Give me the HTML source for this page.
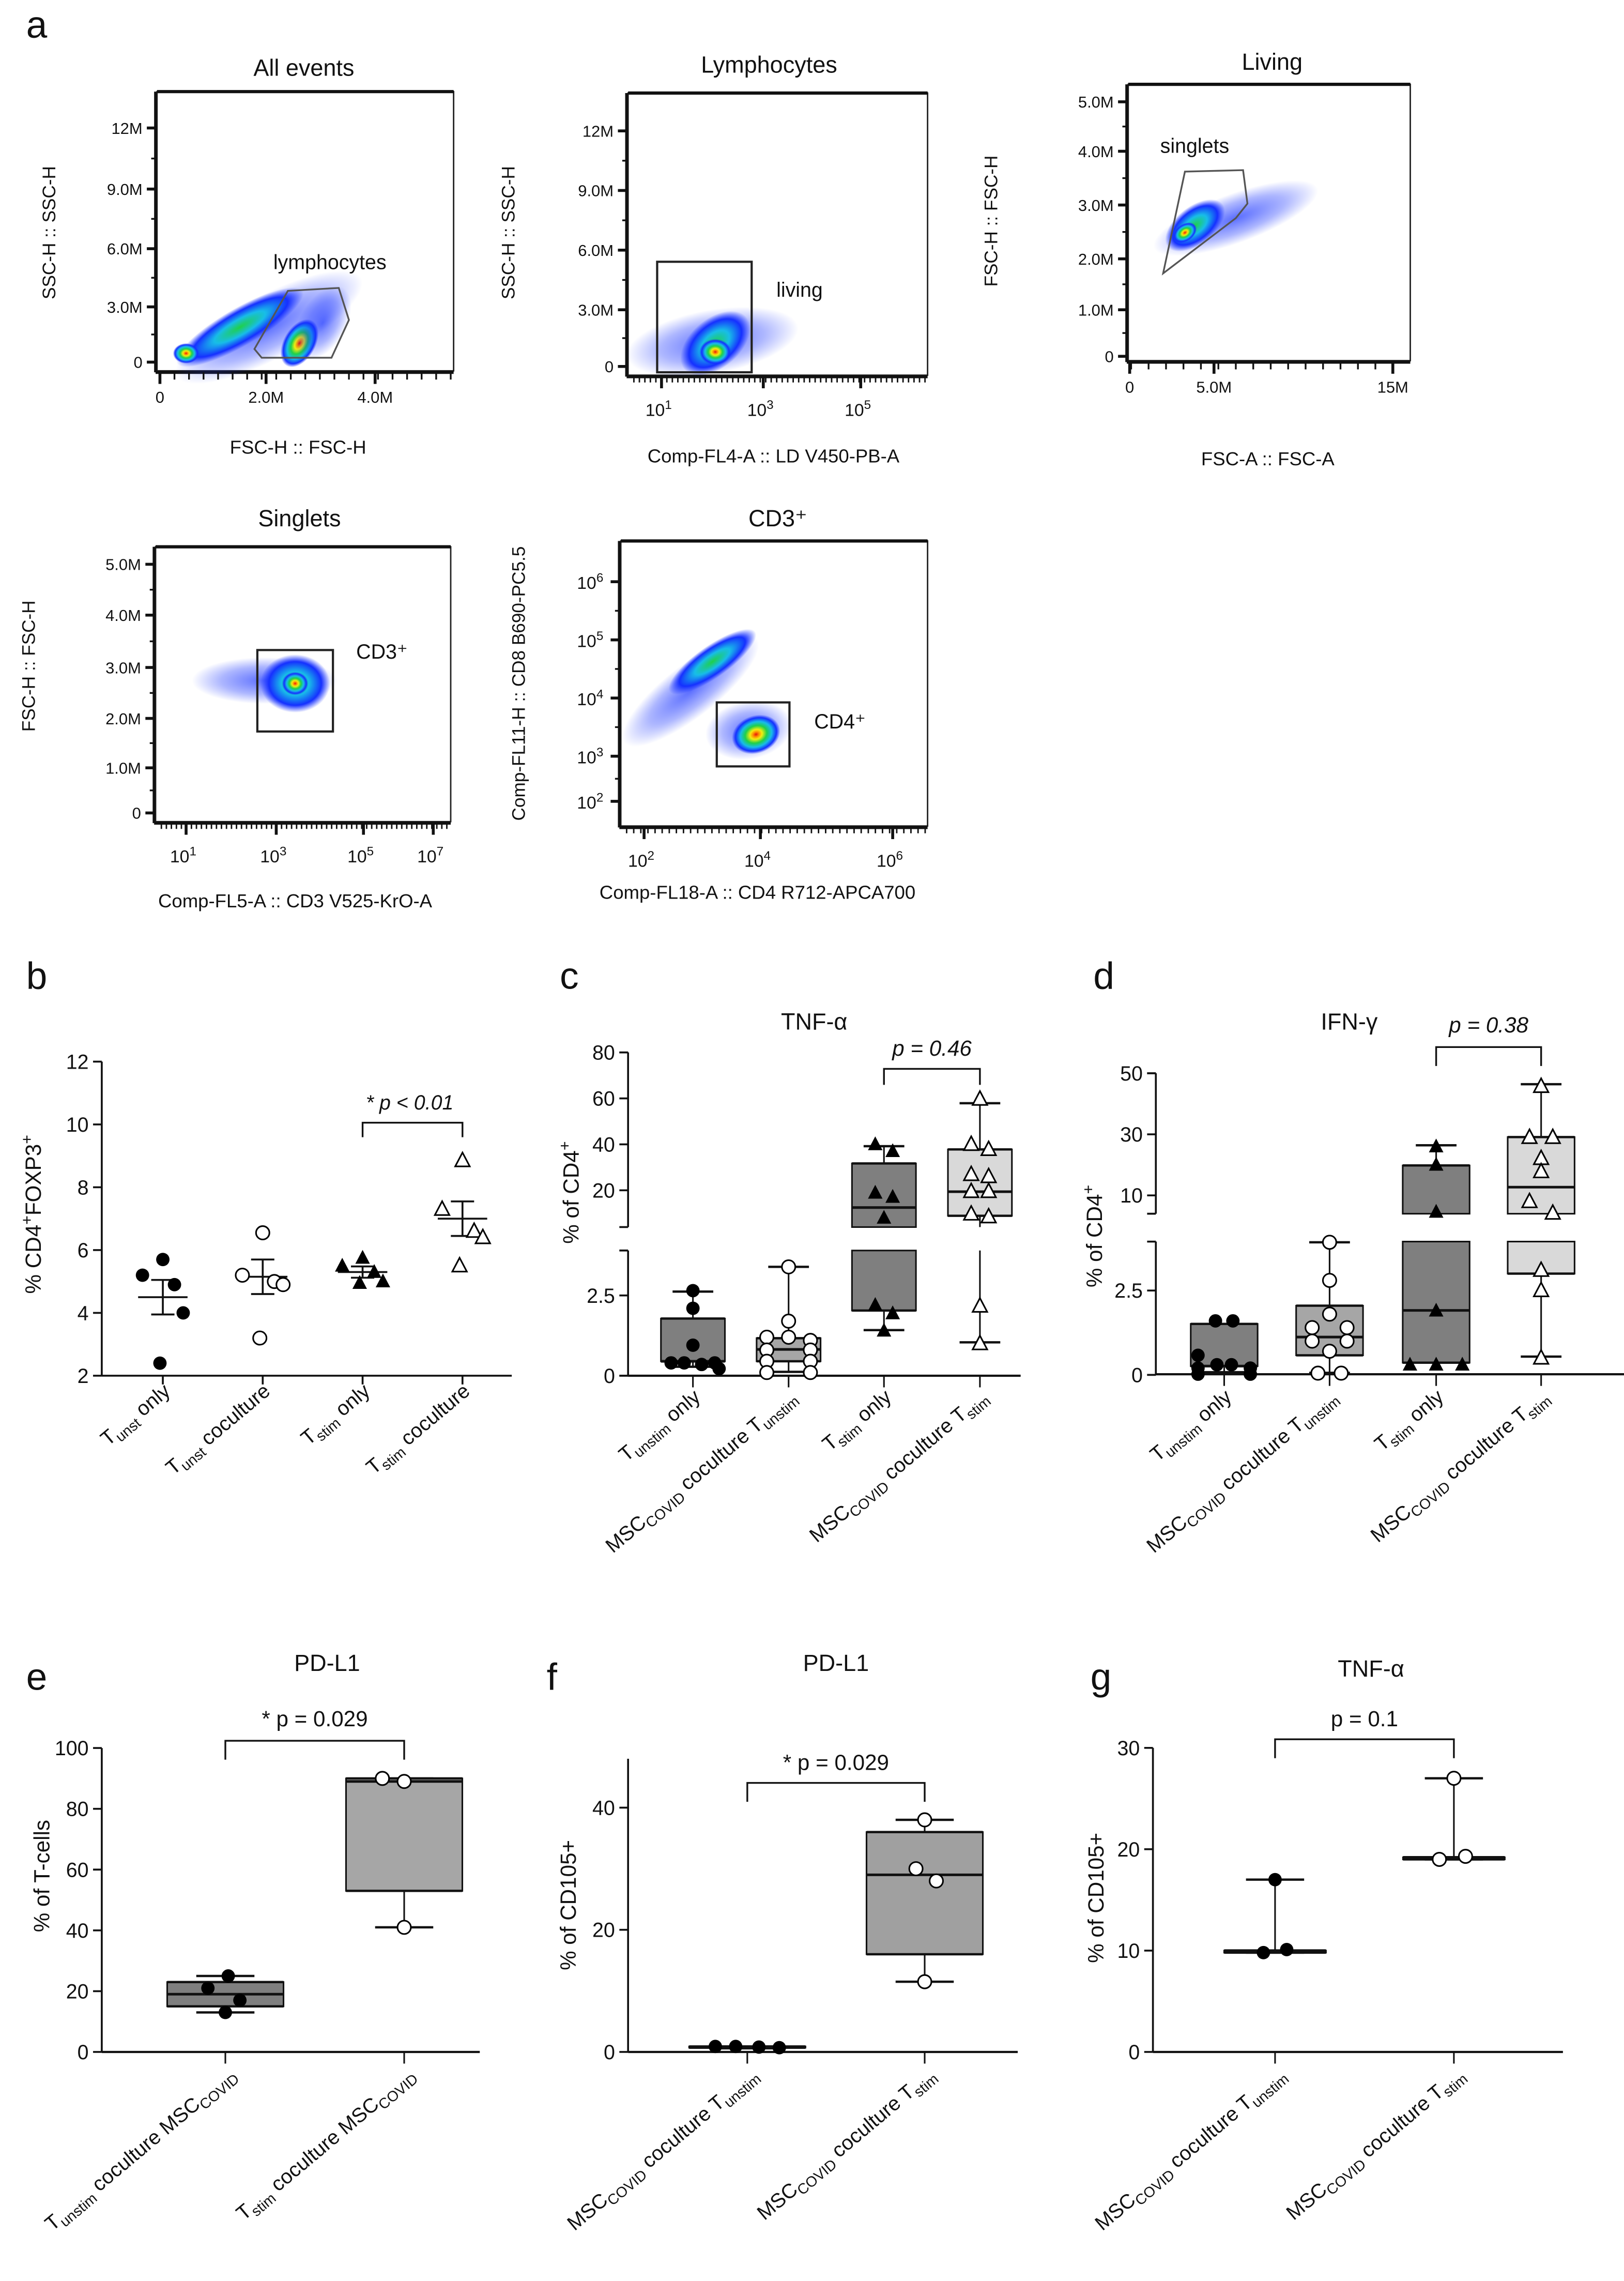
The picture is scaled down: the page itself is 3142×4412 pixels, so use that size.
<!DOCTYPE html>
<html><head><meta charset="utf-8">
<style>
html,body{margin:0;padding:0;background:#fff;}
svg{display:block;}
text{font-family:"Liberation Sans",Arial,sans-serif;fill:#111;}
</style></head>
<body>
<svg id="fig" xmlns="http://www.w3.org/2000/svg" width="3142" height="4412" viewBox="0 0 1117 1568.5" preserveAspectRatio="none">
<defs>
<radialGradient id="heat" cx="0.5" cy="0.5" r="0.5">
<stop offset="0" stop-color="#e3140f"/>
<stop offset="0.12" stop-color="#ff8c00"/>
<stop offset="0.25" stop-color="#f2ee10"/>
<stop offset="0.45" stop-color="#1fd04a"/>
<stop offset="0.65" stop-color="#18bde8"/>
<stop offset="0.85" stop-color="#1530ff"/>
<stop offset="1" stop-color="#1530ff" stop-opacity="0"/>
</radialGradient>
<radialGradient id="cool" cx="0.5" cy="0.5" r="0.5">
<stop offset="0" stop-color="#1fd04a"/>
<stop offset="0.4" stop-color="#18bde8"/>
<stop offset="0.75" stop-color="#1530ff"/>
<stop offset="1" stop-color="#1530ff" stop-opacity="0"/>
</radialGradient>
<radialGradient id="blue" cx="0.5" cy="0.5" r="0.5">
<stop offset="0" stop-color="#1530ff" stop-opacity="0.7"/>
<stop offset="0.6" stop-color="#1530ff" stop-opacity="0.35"/>
<stop offset="1" stop-color="#1530ff" stop-opacity="0"/>
</radialGradient>
</defs>
<rect x="0" y="0" width="1117" height="1568.5" fill="#fff"/>
</svg>
<script>
// ---------- DATA ----------
// panel b
const bCats = ['unst only','unst coculture','stim only','stim coculture'];
const bVals1 = [5.7,5.2,4.9,4.0,2.4];
const bVals2 = [6.55,5.2,5.0,4.9,3.2];
const bVals3 = [5.75,5.5,5.3,5.0,4.95];
const bVals4 = [8.85,7.3,6.6,6.4,5.5];
const bMeans = [4.5,5.15,5.3,7.0];
const bSems = [0.55,0.55,0.18,0.55];
const bTicks = [2,4,6,8,10,12];
// panel c (TNF-a)
const cBox1 = [0.28,0.45,0.45,1.78,2.62];
const cBox2 = [0.12,0.45,0.82,1.17,3.39];
const cBox3 = [1.42,2.03,12.5,31.7,39.2];
const cBox4 = [1.04,8.9,19.4,37.8,57.9];
const cPts1 = [2.65,2.1,0.95,0.4,0.4,0.35,0.4,0.22];
const cPts2 = [3.39,1.7,1.2,1.2,1.1,0.8,0.8,0.45,0.45,0.1,0.1];
const cPts3 = [40,37,18.9,17.1,8,2.2,1.94,1.4];
const cPts4 = [59.7,40,37.8,26.9,26,19.5,19.5,9.7,8.5,2.17,1.0];
const cTicksLow = [0,2.5];
const cTicksUp = [20,40,60,80];
// panel d (IFN-g)
const dBox1 = [0.08,0.26,0.26,1.51,1.51];
const dBox2 = [0.06,0.58,1.12,2.05,3.93];
const dBox3 = [0.36,0.36,1.91,19.8,26.4];
const dBox4 = [0.54,3.0,12.7,29.1,46.4];
const dPts1 = [1.6,1.6,0.58,0.3,0.3,0.2,0.2,0.02,0.02];
const dPts2 = [3.93,2.8,1.8,1.4,1.4,1.0,1.0,0.7,0.05,0.05];
const dPts3 = [26,20,4.6,1.9,0.3,0.3,0.3];
const dPts4 = [45.7,29,29,22.1,17.8,8.0,4.2,3.1,2.5,0.5];
const dTicksLow = [0,2.5];
const dTicksUp = [10,30,50];
// panel e (PD-L1 % T-cells)
const eBox1 = [13,15,19,23,25];
const eBox2 = [41,53,89,90,90];
const ePts1 = [25,21,17,13];
const ePts2 = [90,89,41];
const eTicks = [0,20,40,60,80,100];
// panel f (PD-L1 % CD105+)
const fBox1 = [0.6,0.7,0.8,0.9,0.9];
const fBox2 = [11.5,16,29,36,38];
const fPts1 = [0.9,0.9,0.8,0.7];
const fPts2 = [38,30,28,11.5];
const fTicks = [0,20,40];
// panel g (TNF-a % CD105+)
const gBox1 = [9.8,9.8,10,10,17];
const gBox2 = [19,19,19.2,19.2,27];
const gPts1 = [17,9.8,10.1];
const gPts2 = [27,19,19.3];
const gTicks = [0,10,20,30];

// ---------- HELPERS ----------
const NS='http://www.w3.org/2000/svg';
const svg=document.getElementById('fig');
function el(tag,attrs,parent){const e=document.createElementNS(NS,tag);for(const k in attrs)e.setAttribute(k,attrs[k]);(parent||svg).appendChild(e);return e;}
function grp(name){const g=el('g',{});


return g;}
function txt(p,x,y,s,size,anchor,extra){const t=el('text',Object.assign({x:x,y:y,'font-size':size,'text-anchor':anchor||'middle'},extra||{}),p);t.textContent=s;return t;}
function line(p,x1,y1,x2,y2,w){return el('line',{x1:x1,y1:y1,x2:x2,y2:y2,stroke:'#111','stroke-width':w||1.2},p);}
function rich(p,x,y,parts,size,anchor,transform){
  const t=el('text',{x:x,y:y,'font-size':size,'text-anchor':anchor||'middle'},p);
  if(transform)t.setAttribute('transform',transform);
  let shift=0;
  parts.forEach(pt=>{const ts=el('tspan',{},t);let target=0;
    if(pt[1]==='sub'){target=size*0.25;ts.setAttribute('font-size',size*0.72);}
    else if(pt[1]==='sup'){target=-size*0.4;ts.setAttribute('font-size',size*0.72);}
    ts.setAttribute('dy',target-shift);shift=target;ts.textContent=pt[0];});
  return t;}

[['a',18,26],['b',18,680],['c',385,680],['d',752,680],['e',18,1162],['f',376,1162],['g',750,1162]].forEach(l=>{
  const t=txt(svg,l[1],l[2],l[0],26,'start');
  
  
});

// ---------- FLOW PLOTS ----------
function flowPlot(c){
  const g=grp(c.name);
  txt(g,c.tx,c.ty,c.title,16);
  el('rect',{x:c.x0,y:c.y0,width:c.x1-c.x0,height:c.y1-c.y0,fill:'none',stroke:'#222','stroke-width':1},g);
  line(g,c.x0,c.y0,c.x1,c.y0,2.2);
  line(g,c.x0-1,c.y1+1,c.x1,c.y1+1,2.2);
  line(g,c.x0-1,c.y0,c.x0-1,c.y1+1,2);
  c.blobs.forEach(b=>{el('ellipse',{cx:b[0],cy:b[1],rx:b[2],ry:b[3],fill:'url(#'+b[5]+')',transform:'rotate('+b[4]+' '+b[0]+' '+b[1]+')'},g);});
  if(c.gate)el(c.gate[0],c.gate[1],g);
  txt(g,c.gx,c.gy,c.gtext,14,'start');
  c.yt.forEach((t,i)=>{line(g,c.x0-7,t[1],c.x0,t[1],2);txt(g,c.x0-10,t[1]+4,t[0],11,'end');
    if(i<c.yt.length-1){const ym=(t[1]+c.yt[i+1][1])/2;line(g,c.x0-4,ym,c.x0,ym,1.2);}});
  if(c.log){
    for(let x=c.x0+4;x<c.x1;x+=c.dec/9){line(g,x,c.y1+1,x,c.y1+5,1);}
    c.xt.forEach(t=>{line(g,t[1],c.y1+1,t[1],c.y1+9,2);rich(g,t[1]-2,c.y1+28,[['10',null],[t[0],'sup']],12,'middle');});
  } else {
    for(let x=c.x0+2;x<c.x1;x+=c.minor){line(g,x,c.y1+1,x,c.y1+6,1.2);}
    c.xt.forEach(t=>{line(g,t[1],c.y1+1,t[1],c.y1+9,2);txt(g,t[1],c.y1+22,t[0],11);});
  }
  txt(g,c.ylx,c.yly,c.ylabel,12.5,'middle',{transform:'rotate(-90 '+c.ylx+' '+c.yly+')'});
  txt(g,c.xlx,c.xly,c.xlabel,13);
}
flowPlot({name:'flow-all-events',title:'All events',tx:209,ty:52,x0:108,y0:63,x1:312,y1:255,
 blobs:[[185,225,72,22,-28,'blue'],[165,225,50,13,-30,'cool'],[128,243,9,7,0,'heat'],[206,236,18,11,-60,'heat'],[222,222,28,16,-60,'blue']],
 gate:['polygon',{points:'175,240 198,200 233,198 240,220 228,246 180,246',fill:'none',stroke:'#555','stroke-width':1.2}],
 gx:188,gy:185,gtext:'lymphocytes',
 yt:[['12M',88],['9.0M',130],['6.0M',171],['3.0M',211],['0',249]],
 xt:[['0',110],['2.0M',183],['4.0M',258]],minor:10,
 ylabel:'SSC-H :: SSC-H',ylx:38,yly:160,xlabel:'FSC-H :: FSC-H',xlx:205,xly:312});
flowPlot({name:'flow-lymphocytes',title:'Lymphocytes',tx:529,ty:50,x0:432,y0:64,x1:638,y1:258,log:true,dec:34,
 blobs:[[490,235,60,22,-10,'blue'],[492,236,28,17,-40,'cool'],[492,242,11,9,0,'heat']],
 gate:['rect',{x:452,y:180,width:65,height:76,fill:'none',stroke:'#222','stroke-width':1.5}],
 gx:534,gy:204,gtext:'living',
 yt:[['12M',90],['9.0M',131],['6.0M',172],['3.0M',213],['0',252]],
 xt:[['1',455],['3',525],['5',592]],
 ylabel:'SSC-H :: SSC-H',ylx:354,yly:160,xlabel:'Comp-FL4-A :: LD V450-PB-A',xlx:532,xly:318});
flowPlot({name:'flow-living',title:'Living',tx:875,ty:48,x0:776,y0:58,x1:970,y1:248,
 blobs:[[850,150,60,17,-20,'blue'],[822,155,24,13,-38,'cool'],[815,160,9,6,-35,'heat']],
 gate:['polygon',{points:'800,188 815,118 855,117 858,140 850,150',fill:'none',stroke:'#555','stroke-width':1.2}],
 gx:798,gy:105,gtext:'singlets',
 yt:[['5.0M',70],['4.0M',104],['3.0M',141],['2.0M',178],['1.0M',213],['0',245]],
 xt:[['0',777],['5.0M',835],['15M',958]],minor:12,
 ylabel:'FSC-H :: FSC-H',ylx:686,yly:152,xlabel:'FSC-A :: FSC-A',xlx:872,xly:320});
flowPlot({name:'flow-singlets',title:'Singlets',tx:206,ty:362,x0:107,y0:376,x1:310,y1:565,log:true,dec:31,
 blobs:[[182,468,50,16,0,'blue'],[203,470,24,20,0,'cool'],[203,470,9,8,0,'heat']],
 gate:['rect',{x:177,y:447,width:52,height:56,fill:'none',stroke:'#222','stroke-width':1.5}],
 gx:245,gy:453,gtext:'CD3⁺',
 yt:[['5.0M',388],['4.0M',423],['3.0M',459],['2.0M',494],['1.0M',528],['0',559]],
 xt:[['1',128],['3',190],['5',250],['7',298]],
 ylabel:'FSC-H :: FSC-H',ylx:24,yly:458,xlabel:'Comp-FL5-A :: CD3 V525-KrO-A',xlx:203,xly:624});
flowPlot({name:'flow-cd3',title:'CD3⁺',tx:535,ty:362,x0:427,y0:372,x1:638,y1:568,log:true,dec:44,
 blobs:[[475,475,58,18,-38,'blue'],[490,455,36,11,-35,'cool'],[515,502,30,20,-10,'blue'],[520,505,17,13,-20,'heat']],
 gate:['rect',{x:493,y:483,width:50,height:44,fill:'none',stroke:'#222','stroke-width':1.5}],
 gx:560,gy:501,gtext:'CD4⁺',
 yt:[['',400],['',440],['',480],['',520],['',551]],
 xt:[['2',443],['4',523],['6',614]],
 ylabel:'Comp-FL11-H :: CD8 B690-PC5.5',ylx:361,yly:470,xlabel:'Comp-FL18-A :: CD4 R712-APCA700',xlx:521,xly:618});
(function(){const g=grp('flow-cd3-y-tick-labels');[['6',400],['5',440],['4',480],['3',520],['2',551]].forEach(t=>rich(g,415,t[1]+5,[['10',null],[t[0],'sup']],12,'end'));})();

// ---------- MARKERS ----------
function marker(p,x,y,type){
  let m;
  if(type==='fc')m=el('circle',{cx:x,cy:y,r:4.6,fill:'#000'},p);
  else if(type==='oc')m=el('circle',{cx:x,cy:y,r:4.6,fill:'#fff',stroke:'#000','stroke-width':1.1},p);
  else if(type==='ft')m=el('polygon',{points:(x)+','+(y-5.5)+' '+(x-5)+','+(y+4)+' '+(x+5)+','+(y+4),fill:'#000'},p);
  else m=el('polygon',{points:(x)+','+(y-5.5)+' '+(x-5)+','+(y+4)+' '+(x+5)+','+(y+4),fill:'#fff',stroke:'#000','stroke-width':1.1},p);
  
  
}

// ---------- PANEL B ----------
(function(){
  const g=grp('panel-b-foxp3');
  const ax=70, y0=946;
  const ys=v=>946-(v-2)*21.6;
  const xs=i=>112+i*68.7;
  line(g,ax,ys(12),ax,y0,1.3);line(g,ax,y0,352,y0,1.3);
  bTicks.forEach(t=>{line(g,ax-6,ys(t),ax,ys(t),1.3);txt(g,ax-9,ys(t)+5,String(t),14,'end');});
  bCats.forEach((c,i)=>line(g,xs(i),y0,xs(i),y0+6,1.3));
  const sets=[bVals1,bVals2,bVals3,bVals4], mk=['fc','oc','ft','ot'];
  const jit=[0,-14,8,14,-2];
  sets.forEach((s,i)=>{
    const x=xs(i);
    line(g,x-17,ys(bMeans[i]),x+17,ys(bMeans[i]),1.3);
    line(g,x,ys(bMeans[i]-bSems[i]),x,ys(bMeans[i]+bSems[i]),1.3);
    line(g,x-8,ys(bMeans[i]-bSems[i]),x+8,ys(bMeans[i]-bSems[i]),1.3);
    line(g,x-8,ys(bMeans[i]+bSems[i]),x+8,ys(bMeans[i]+bSems[i]),1.3);
    s.forEach((v,j)=>marker(g,x+jit[j],ys(v),mk[i]));
    rich(g,x+6,958,[['T',null],[bCats[i].split(' ')[0],'sub'],[' '+bCats[i].split(' ').slice(1).join(' '),null]],14,'end','rotate(-40 '+(x+6)+' 958)');
  });
  el('polyline',{points:xs(2)+','+(772+10)+' '+xs(2)+',772 '+xs(3)+',772 '+xs(3)+','+(772+10),fill:'none',stroke:'#111','stroke-width':1.2},g);
  txt(g,(xs(2)+xs(3))/2-2,763,'* p < 0.01',14,'middle',{'font-style':'italic'});
  rich(g,28,835,[['% CD4',null],['+','sup'],['FOXP3',null],['+','sup']],15,'middle','rotate(-90 28 835)');
})();

// ---------- BOX PANELS ----------
function boxPanel(cfg){
  const g=grp(cfg.name);
  const segs=cfg.segs;
  function yv(v){for(const s of segs){if(v>=s.vmin&&v<=s.vmax)return s.f(v);}
    let best=segs[0],d=1e9;segs.forEach(s=>{const dd=Math.min(Math.abs(v-s.vmin),Math.abs(v-s.vmax));if(dd<d){d=dd;best=s;}});
    return best.f(Math.max(best.vmin,Math.min(best.vmax,v)));}
  function spans(a,b){const out=[];segs.forEach(s=>{const lo=Math.max(a,s.vmin),hi=Math.min(b,s.vmax);if(hi>lo)out.push([s.f(lo),s.f(hi)]);});return out;}
  segs.forEach(s=>{line(g,cfg.ax,s.f(Math.max(s.vmin,0)),cfg.ax,s.f(s.vmax),1.3);
    if(segs.length>1){line(g,cfg.ax-6,s.f(s.vmax),cfg.ax,s.f(s.vmax),1.3);line(g,cfg.ax-6,s.f(Math.max(s.vmin,0)),cfg.ax,s.f(Math.max(s.vmin,0)),1.3);}});
  cfg.ticks.forEach(t=>{const y=yv(t);line(g,cfg.ax-6,y,cfg.ax,y,1.3);txt(g,cfg.ax-9,y+5,String(t),14,'end');});
  line(g,cfg.ax,cfg.y0,cfg.xend,cfg.y0,1.5);
  cfg.cats.forEach(x=>line(g,x,cfg.y0,x,cfg.y0+8,1.1));
  cfg.boxes.forEach((b,i)=>{
    const x=cfg.cats[i],w=cfg.bw;
    spans(b[0],b[1]).forEach(s=>line(g,x,s[0],x,s[1],1.1));
    spans(b[3],b[4]).forEach(s=>line(g,x,s[0],x,s[1],1.1));
    line(g,x-cfg.cw/2,yv(b[0]),x+cfg.cw/2,yv(b[0]),1.6);
    line(g,x-cfg.cw/2,yv(b[4]),x+cfg.cw/2,yv(b[4]),1.6);
    spans(b[1],b[3]).forEach(s=>{
      const r=el('rect',{x:x-w/2,y:Math.min(s[0],s[1]),width:w,height:Math.max(Math.abs(s[0]-s[1]),0.01),fill:cfg.fills[i],stroke:'#111','stroke-width':1.1},g);
      
      });
    line(g,x-w/2,yv(b[1]),x+w/2,yv(b[1]),1.6);
    line(g,x-w/2,yv(b[3]),x+w/2,yv(b[3]),1.6);
    line(g,x-w/2,yv(b[2]),x+w/2,yv(b[2]),1.8);
    const pts=cfg.pts[i];
    pts.forEach((v,j)=>{const off=cfg.jit?cfg.jit[i][j%cfg.jit[i].length]:((j%3)-1)*w*0.33;marker(g,x+off,yv(v),cfg.mk[i]);});
  });
  const bk=cfg.bracket;
  el('polyline',{points:cfg.cats[bk.a]+','+(bk.y+bk.h)+' '+cfg.cats[bk.a]+','+bk.y+' '+cfg.cats[bk.b]+','+bk.y+' '+cfg.cats[bk.b]+','+(bk.y+bk.h),fill:'none',stroke:'#111','stroke-width':1.2},g);
  txt(g,(cfg.cats[bk.a]+cfg.cats[bk.b])/2,bk.ty,bk.text,15,'middle',bk.italic?{'font-style':'italic'}:{});
  txt(g,cfg.title[1],cfg.title[2],cfg.title[0],16);
  rich(g,cfg.yl[1],cfg.yl[2],cfg.yl[0],15,'middle','rotate(-90 '+cfg.yl[1]+' '+cfg.yl[2]+')');
  cfg.xl.forEach((parts,i)=>{const x=cfg.cats[i]+cfg.xlo,y=cfg.xly;rich(g,x,y,parts,14,'end','rotate(-40 '+x+' '+y+')');});
}
const cd4=[['% of CD4',null],['+','sup']];
const lblTuOnly=[['T',null],['unstim','sub'],[' only',null]];
const lblTsOnly=[['T',null],['stim','sub'],[' only',null]];
const lblMscTu=[['MSC',null],['COVID','sub'],[' coculture T',null],['unstim','sub']];
const lblMscTs=[['MSC',null],['COVID','sub'],[' coculture T',null],['stim','sub']];
boxPanel({name:'panel-c-tnf',ax:432,y0:946,xend:702,cats:[476.6,542.4,608,674],bw:44,cw:28,
 segs:[{vmin:-0.5,vmax:3.9,f:v=>946-22.08*v},{vmin:4,vmax:80,f:v=>818.5-(v-20)*1.58}],
 ticks:[0,2.5,20,40,60,80],
 boxes:[cBox1,cBox2,cBox3,cBox4],fills:['#7f7f7f','#a6a6a6','#7f7f7f','#d9d9d9'],
 pts:[cPts1,cPts2,cPts3,cPts4],mk:['fc','oc','ft','ot'],
 jit:[[0,0,0,-15,-6,6,15,18],[0,0,0,-15,15,-15,15,-15,15,-15,15],[-6,6,-6,6,0,-6,6,0],[0,-6,6,-6,6,-6,6,-6,6,0,0]],
 bracket:{a:2,b:3,y:735,h:11,ty:726,text:'p = 0.46',italic:true},
 title:['TNF-α',560,708],yl:[cd4,398,820],
 xl:[lblTuOnly,lblMscTu,lblTsOnly,lblMscTs],xlo:6,xly:962});
boxPanel({name:'panel-d-ifn',ax:795,y0:945,xend:1117,cats:[842,914.5,987.8,1060],bw:46,cw:28,
 segs:[{vmin:-0.5,vmax:3.95,f:v=>945.4-23.2*v},{vmin:4.0,vmax:50,f:v=>822-(v-10)*2.10}],
 ticks:[0,2.5,10,30,50],
 boxes:[dBox1,dBox2,dBox3,dBox4],fills:['#7f7f7f','#a6a6a6','#7f7f7f','#d9d9d9'],
 pts:[dPts1,dPts2,dPts3,dPts4],mk:['fc','oc','ft','ot'],
 jit:[[-6,6,-18,-5,5,-18,18,-18,18],[0,0,0,-12,12,-12,12,0,-8,8],[0,0,0,0,-18,0,18],[0,-8,8,0,0,-8,8,0,0,0]],
 bracket:{a:2,b:3,y:720,h:13,ty:710,text:'p = 0.38',italic:true},
 title:['IFN-γ',928,708],yl:[cd4,758,850],
 xl:[lblTuOnly,lblMscTu,lblTsOnly,lblMscTs],xlo:6,xly:962});
boxPanel({name:'panel-e-pdl1-tcells',ax:70,y0:1411,xend:330,cats:[155,278],bw:80,cw:40,
 segs:[{vmin:-1,vmax:100,f:v=>1411-2.09*v}],ticks:eTicks,
 boxes:[eBox1,eBox2],fills:['#7f7f7f','#a6a6a6'],pts:[ePts1,ePts2],mk:['fc','oc'],
 jit:[[2,-12,10,0],[-15,0,0]],
 bracket:{a:0,b:1,y:1197,h:13,ty:1187,text:'* p = 0.029',italic:false},
 title:['PD-L1',225,1149],yl:[[['% of T-cells',null]],34,1290],
 xl:[[['T',null],['unstim','sub'],[' coculture MSC',null],['COVID','sub']],[['T',null],['stim','sub'],[' coculture MSC',null],['COVID','sub']]],xlo:8,xly:1428});
boxPanel({name:'panel-f-pdl1-cd105',ax:432,y0:1411,xend:700,cats:[514,636],bw:80,cw:40,
 segs:[{vmin:-1,vmax:48,f:v=>1411-4.2*v}],ticks:fTicks,
 boxes:[fBox1,fBox2],fills:['#7f7f7f','#a0a0a0'],pts:[fPts1,fPts2],mk:['fc','oc'],
 jit:[[-22,-8,8,22],[0,-6,8,0]],
 bracket:{a:0,b:1,y:1226,h:13,ty:1217,text:'* p = 0.029',italic:false},
 title:['PD-L1',575,1149],yl:[[['% of CD105+',null]],396,1310],
 xl:[lblMscTu,lblMscTs],xlo:8,xly:1428});
boxPanel({name:'panel-g-tnf-cd105',ax:793,y0:1411,xend:1075,cats:[877,1000],bw:70,cw:40,
 segs:[{vmin:-1,vmax:30,f:v=>1411-6.97*v}],ticks:gTicks,
 boxes:[gBox1,gBox2],fills:['#7f7f7f','#a6a6a6'],pts:[gPts1,gPts2],mk:['fc','oc'],
 jit:[[0,-8,8],[0,-10,8]],
 bracket:{a:0,b:1,y:1196,h:13,ty:1187,text:'p = 0.1',italic:false},
 title:['TNF-α',943,1153],yl:[[['% of CD105+',null]],759,1305],
 xl:[lblMscTu,lblMscTs],xlo:8,xly:1428});
</script>
</body></html>
